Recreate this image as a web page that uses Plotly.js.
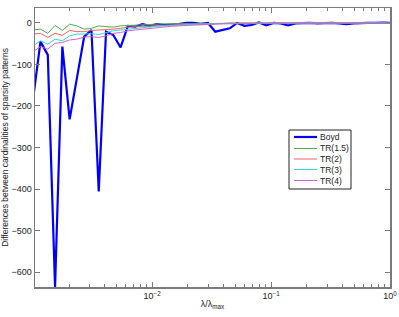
<!DOCTYPE html>
<html>
<head>
<meta charset="utf-8">
<script src="https://cdn.plot.ly/plotly-3.0.1.min.js"></script>
<style>html,body{margin:0;padding:0;background:#fff;}#chart{width:399px;height:317px;}</style>
</head>
<body>
<div id="chart"></div>
<script>
// lambda / lambda_max grid (50 log-spaced points from 1e-3 to 1)
var lambdaRatio = [0.001000,0.001151,0.001326,0.001526,0.001758,0.002024,0.002330,0.002683,0.003089,0.003556,
  0.004095,0.004715,0.005429,0.006251,0.007197,0.008286,0.009541,0.010985,0.012649,0.014563,
  0.016768,0.019307,0.022230,0.025595,0.029471,0.033932,0.039069,0.044984,0.051795,0.059636,
  0.068665,0.079060,0.091030,0.104811,0.120679,0.138950,0.159986,0.184207,0.212095,0.244205,
  0.281177,0.323746,0.372759,0.429193,0.494171,0.568987,0.655129,0.754312,0.868511,1.000000];

var boyd = [-181,-45,-77,-636,-57,-232,-133,-33,-17,-406,
  -21,-29,-59,-7,-9,-3,-7,-3,-5,-4,
  -3,0,0,-2,0,-21,-17,-13,0,-7,
  -5,1,-6,0,-1,-6,-1,0,0,-1,
  0,0,-1,-3,-1,0,0,0,1,0];

var tr15 = [-17,-15,-25,-6,-18,-3,-7,-15,-13,-7,
  -9,-10,-7,-6,-5,-4,-3,-3,-2,-2,
  -2,-1,-1,-1,-1,-1,-1,0,0,0,
  0,0,0,0,0,0,0,0,0,0,
  0,0,0,0,0,0,0,0,0,0];

var tr2 = [-27,-25,-35,-25,-30,-18,-21,-21,-18,-17,
  -17,-15,-13,-10,-9,-8,-7,-6,-5,-4,
  -4,-3,-3,-2,-2,-2,-1,-1,-1,-1,
  0,0,0,0,0,0,0,0,0,0,
  0,0,0,0,0,0,0,0,0,0];

var tr3 = [-55,-43,-51,-39,-43,-31,-27,-26,-26,-28,
  -23,-19,-17,-15,-13,-11,-10,-8,-7,-6,
  -5,-4,-3,-3,-2,-2,-2,-1,-1,-1,
  -1,0,0,0,0,0,0,0,0,0,
  0,0,0,0,0,0,0,0,0,0];

var tr4 = [-69,-57,-63,-49,-47,-41,-39,-34,-33,-35,
  -31,-25,-23,-19,-17,-15,-13,-11,-9,-8,
  -7,-6,-5,-4,-3,-3,-2,-2,-2,-1,
  -1,-1,-1,0,0,0,0,0,0,0,
  0,0,0,0,0,0,0,0,0,0];

var seriesNames = ['Boyd','TR(1.5)','TR(2)','TR(3)','TR(4)'];
var seriesData = [boyd, tr15, tr2, tr3, tr4];
var seriesColors = ['#0000ff','#4cb04c','#f06060','#30d8d8','#d860d8'];
var seriesWidths = [2.2, 1, 1, 1, 1];

var xTickVals = [0.01, 0.1, 1];
var xTickText = ['10<sup>\u22122</sup>','10<sup>\u22121</sup>','10<sup>0</sup>'];
var xMinorVals = [0.002,0.003,0.004,0.005,0.006,0.007,0.008,0.009,
  0.02,0.03,0.04,0.05,0.06,0.07,0.08,0.09,
  0.2,0.3,0.4,0.5,0.6,0.7,0.8,0.9];
var yTickVals = [0,-100,-200,-300,-400,-500,-600];

var traces = [];
for (var k = 0; k < seriesNames.length; k++) {
  traces.push({
    x: lambdaRatio, y: seriesData[k], type: 'scatter', mode: 'lines',
    name: seriesNames[k], line: {color: seriesColors[k], width: seriesWidths[k]},
    showlegend: false
  });
}

// plot area in pixels
var L = 35, R = 390, T = 8, B = 287;
function px(x){ return (x - L) / (R - L); }
function py(y){ return (B - y) / (B - T); }

var shapes = [];
var annotations = [];
// custom legend box
var lgX0 = 289, lgX1 = 351, lgY0 = 130, lgY1 = 189;
shapes.push({type:'rect', xref:'paper', yref:'paper', x0:px(lgX0), x1:px(lgX1), y0:py(lgY1), y1:py(lgY0),
  line:{color:'#222', width:1}, fillcolor:'#fff', layer:'above'});
var rowY = [137, 148.5, 159, 169.5, 180.5];
for (var k = 0; k < seriesNames.length; k++) {
  shapes.push({type:'line', xref:'paper', yref:'paper', x0:px(294), x1:px(317), y0:py(rowY[k]), y1:py(rowY[k]),
    line:{color:seriesColors[k], width:seriesWidths[k]}, layer:'above'});
  annotations.push({xref:'paper', yref:'paper', x:px(319), y:py(rowY[k]), xanchor:'left', yanchor:'middle',
    text: seriesNames[k], showarrow:false, font:{size:8.5, color:'#222'}, borderpad:0});
}

var axisColor = '#7a7a7a';
var layout = {
  width: 399, height: 317,
  margin: {l: L, r: 399 - R, t: T, b: 317 - B, pad: 0},
  paper_bgcolor: '#fff', plot_bgcolor: '#fff',
  font: {family: '"Liberation Sans", Arial, sans-serif', size: 9, color: '#222'},
  showlegend: false,
  xaxis: {
    type: 'log', range: [-2.985, 0], autorange: false,
    tickmode: 'array', tickvals: xTickVals, ticktext: xTickText,
    ticks: 'inside', ticklen: 5, tickwidth: 1, tickcolor: axisColor,
    minor: {tickmode: 'array', tickvals: xMinorVals, ticks: 'inside', ticklen: 3, tickwidth: 1, tickcolor: axisColor, showgrid: false},
    showline: true, linecolor: axisColor, linewidth: 1.5, mirror: 'ticks',
    showgrid: false, zeroline: false,
    tickfont: {size: 9, color: '#222'},
    title: {text: '\u03bb/\u03bb<sub>max</sub>', font: {size: 9, color: '#222'}, standoff: 0}
  },
  yaxis: {
    range: [-636, 36], autorange: false,
    tickmode: 'array', tickvals: yTickVals,
    ticks: 'inside', ticklen: 5, tickwidth: 1, tickcolor: axisColor,
    showline: true, linecolor: axisColor, linewidth: 1.5, mirror: 'ticks',
    showgrid: false, zeroline: false,
    tickfont: {size: 9, color: '#222'},
    title: {text: 'Differences between cardinalities of sparsity patterns', font: {size: 8.5, color: '#222'}, standoff: 1}
  },
  shapes: shapes,
  annotations: annotations
};

Plotly.newPlot('chart', traces, layout, {displayModeBar: false, staticPlot: true});
</script>
</body>
</html>
